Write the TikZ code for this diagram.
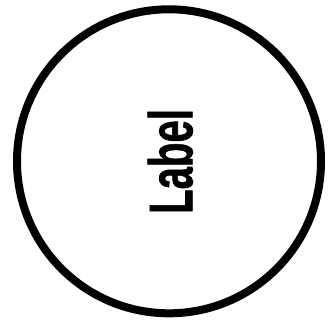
\documentclass[tikz,border=0pt]{standalone}
\usepackage{fontspec}
\setmainfont{Liberation Sans}
\newfontfamily\lblfont[FakeBold=1.2]{Liberation Sans Bold}
\tikzset{
  ring/.style={circle, draw=black, line width=8pt, minimum size=304pt, inner sep=0pt},
  lbl/.style={inner sep=0pt, rotate=90, font=\fontsize{61.7}{70}\lblfont}
}
\begin{document}
\begin{tikzpicture}[x=1pt,y=1pt]
\useasboundingbox (0,0) rectangle (328,322);
\node[ring] (c) at (169,160.7) {};
\node[lbl] (t) at (170.3,160.5) {\scalebox{0.65}[1]{Label}};
\end{tikzpicture}
\end{document}
